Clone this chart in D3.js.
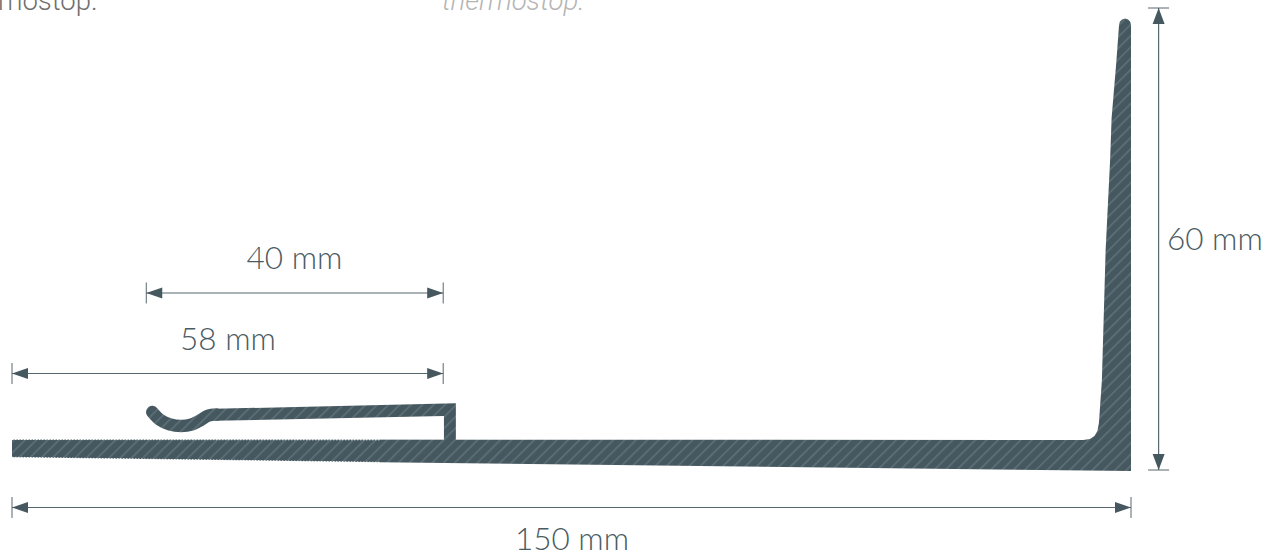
<!DOCTYPE html>
<html>
<head>
<meta charset="utf-8">
<script src="https://cdn.jsdelivr.net/npm/d3@7"></script>
<style>
html, body { margin: 0; padding: 0; background: #fff; overflow: hidden; }
svg { display: block; }
text { font-family: Lato, "Open Sans", sans-serif; font-weight: 300; fill: #4a5b62; font-size: 31.5px; }
</style>
</head>
<body>
<div id="chart"></div>
<script>
// all profile values in mm
var bodyOutline = [[0,3.96],[143.6,3.9],[144.5,4.03],[145.1,4.42],[145.5,5.06],[145.7,6.1],[146.1,11.69],[146.6,28.57],[147.2,40.26],[147.4,45.71],[148,52.6],[148.4,57.8],[148.5,58.2],[148.8,58.52],[149.2,58.64],[149.6,58.52],[149.9,58.2],[150,57.8],[150,-0.13],[49.3,1.0],[0,1.65]];
var clipOutline = [[57.9,3.77],[57.9,7.01],[27.2,6.4],[27.2,7.95],[59.5,8.66],[59.5,3.77]];
var hookCentre = [[18.8,7.53],[19.8,6.55],[21.2,5.91],[22.65,5.71],[24.1,5.91],[25.3,6.49],[26.3,7.07],[27.4,7.2]];
var ribbedEdges = [[[0,3.96],[49.3,3.92]],[[0,1.65],[49.3,1.0]]];

var dimLabels = ["150 mm", "58 mm", "40 mm"];
var dimFrom = [0, 0, 18];
var dimTo = [150, 57.8, 57.8];
var dimRow = [-4.87, 12.53, 22.99];
var heightLabel = "60 mm";
var heightDim = [0, 60];
var heightCol = 153.7;

var width = 1266, height = 553;
var colorProfile = '#46585f', colorHatch = '#5f7178', colorDim = '#56676e';
var tickHalf = 10.5, arrowLen = 16, arrowHalf = 5.5;

var x = d3.scaleLinear().domain([0, 150]).range([12, 1131]);
var y = d3.scaleLinear().domain([0, 60]).range([470, 8]);

var svg = d3.select('#chart').append('svg').attr('width', width).attr('height', height);

var pattern = svg.append('defs').append('pattern')
    .attr('id', 'hatch')
    .attr('patternUnits', 'userSpaceOnUse')
    .attr('width', 8)
    .attr('height', 8)
    .attr('patternTransform', 'rotate(-45)');
pattern.append('rect').attr('width', 8).attr('height', 8).attr('fill', colorProfile);
pattern.append('rect').attr('width', 8).attr('height', 1.6).attr('fill', colorHatch);

var line = d3.line().x(function (d) { return x(d[0]); }).y(function (d) { return y(d[1]); });

// profile
svg.append('path').attr('d', line(bodyOutline) + 'Z').attr('fill', 'url(#hatch)');
svg.append('path').attr('d', line(clipOutline) + 'Z').attr('fill', 'url(#hatch)');
svg.append('path')
    .attr('d', d3.line().x(function (d) { return x(d[0]); }).y(function (d) { return y(d[1]); }).curve(d3.curveCatmullRom)(hookCentre))
    .attr('fill', 'none')
    .attr('stroke', 'url(#hatch)')
    .attr('stroke-width', 12.5)
    .attr('stroke-linecap', 'round');
svg.selectAll('.ribbed').data(ribbedEdges).enter().append('path')
    .attr('class', 'ribbed')
    .attr('d', line)
    .attr('fill', 'none')
    .attr('stroke', '#fff')
    .attr('stroke-width', 1)
    .attr('stroke-dasharray', '1.5 1.5');

// horizontal dimensions
dimLabels.forEach(function (label, i) {
    var x0 = x(dimFrom[i]), x1 = x(dimTo[i]), yy = y(dimRow[i]);
    var g = svg.append('g').attr('class', 'dim');
    g.append('line').attr('x1', x0).attr('x2', x1).attr('y1', yy).attr('y2', yy).attr('stroke', colorDim).attr('stroke-width', 1.2);
    [x0, x1].forEach(function (xx, k) {
        var dir = k === 0 ? 1 : -1;
        g.append('line').attr('x1', xx).attr('x2', xx).attr('y1', yy - tickHalf).attr('y2', yy + tickHalf).attr('stroke', colorDim).attr('stroke-width', 1);
        g.append('path').attr('d', d3.line()([[xx, yy], [xx + dir * arrowLen, yy - arrowHalf], [xx + dir * arrowLen, yy + arrowHalf]]) + 'Z').attr('fill', colorProfile);
    });
});
svg.append('text').attr('x', 572).attr('y', 550).attr('text-anchor', 'middle').text(dimLabels[0]);
svg.append('text').attr('x', 228).attr('y', 350).attr('text-anchor', 'middle').text(dimLabels[1]);
svg.append('text').attr('x', 294.5).attr('y', 269).attr('text-anchor', 'middle').text(dimLabels[2]);

// vertical dimension
var xh = x(heightCol), y0 = y(heightDim[0]), y1 = y(heightDim[1]);
svg.append('line').attr('x1', xh).attr('x2', xh).attr('y1', y0).attr('y2', y1).attr('stroke', colorDim).attr('stroke-width', 1.2);
[y0, y1].forEach(function (yy, k) {
    var dir = k === 0 ? -1 : 1;
    svg.append('line').attr('x1', xh - tickHalf).attr('x2', xh + tickHalf).attr('y1', yy).attr('y2', yy).attr('stroke', colorDim).attr('stroke-width', 1);
    svg.append('path').attr('d', d3.line()([[xh, yy], [xh - arrowHalf - 0.5, yy + dir * arrowLen], [xh + arrowHalf + 0.5, yy + dir * arrowLen]]) + 'Z').attr('fill', colorProfile);
});
svg.append('text').attr('x', 1167).attr('y', 250).text(heightLabel);

// leftovers of the text cut off at the top of the picture
svg.append('text').attr('x', -2).attr('y', 10).style('font-family', 'Roboto').style('font-size', '27.5px').style('fill', '#6f6f6f').text('mostop.');
svg.append('text').attr('x', 442).attr('y', 10).style('font-family', 'Roboto').style('font-style', 'italic').style('font-size', '27.5px').style('fill', '#b5b5b5').text('thermostop.');
</script>
</body>
</html>
